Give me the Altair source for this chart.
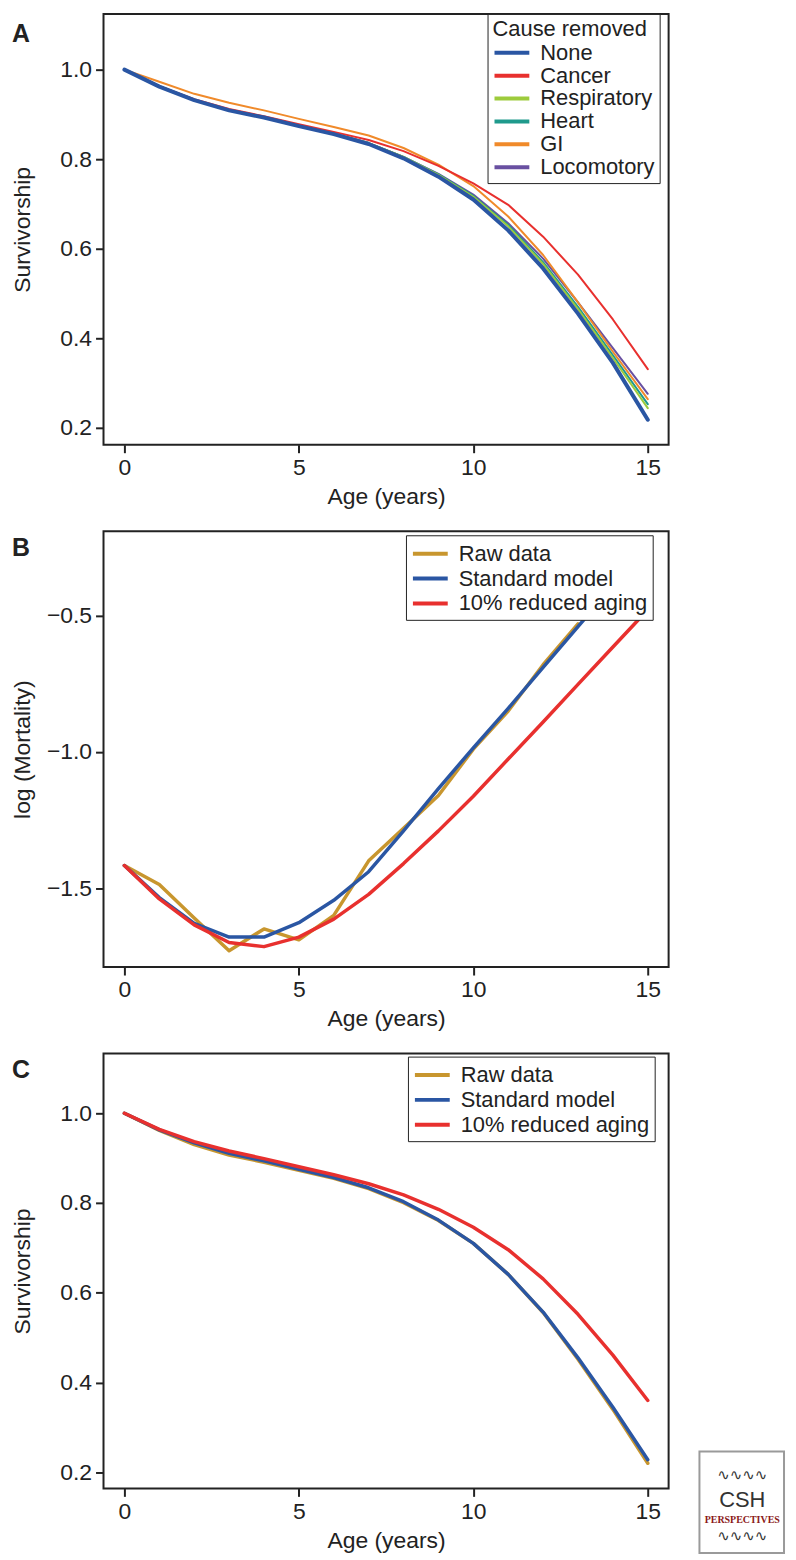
import altair as alt
import pandas as pd

FONT = "Liberation Sans"
INK = "#222222"

ages = list(range(16))

# ---------- Panel A: survivorship with cause removed ----------
causes = ["None", "Cancer", "Respiratory", "Heart", "GI", "Locomotory"]
cause_colors = ["#2a56a3", "#e8302e", "#9dcb3c", "#1f9a8c", "#f08a2a", "#6950a1"]
surv_none = [1.0, 0.962, 0.932, 0.909, 0.893, 0.874, 0.856, 0.834, 0.802, 0.761, 0.710, 0.641, 0.556, 0.455, 0.345, 0.218]
surv_cancer = [1.0, 0.963, 0.934, 0.912, 0.896, 0.878, 0.861, 0.843, 0.818, 0.785, 0.746, 0.698, 0.627, 0.542, 0.442, 0.331]
surv_resp = [1.0, 0.963, 0.933, 0.910, 0.894, 0.875, 0.857, 0.836, 0.805, 0.765, 0.716, 0.650, 0.566, 0.465, 0.356, 0.244]
surv_heart = [1.0, 0.963, 0.933, 0.910, 0.894, 0.875, 0.857, 0.836, 0.805, 0.766, 0.718, 0.653, 0.570, 0.470, 0.362, 0.253]
surv_gi = [1.0, 0.973, 0.946, 0.926, 0.909, 0.890, 0.872, 0.853, 0.825, 0.788, 0.740, 0.672, 0.586, 0.480, 0.370, 0.264]
surv_loco = [1.0, 0.962, 0.932, 0.910, 0.893, 0.875, 0.857, 0.836, 0.805, 0.767, 0.721, 0.657, 0.578, 0.480, 0.378, 0.276]

# ---------- Panels B & C: models ----------
models = ["Raw data", "Standard model", "10% reduced aging"]
model_colors = ["#c8962e", "#2a56a3", "#e8302e"]

ages_raw_b = list(range(14))
logmort_raw = [-1.417, -1.487, -1.61, -1.73, -1.65, -1.69, -1.60, -1.40, -1.28, -1.16, -0.99, -0.85, -0.68, -0.53]
logmort_std = [-1.417, -1.535, -1.63, -1.68, -1.68, -1.627, -1.545, -1.44, -1.29, -1.135, -0.985, -0.84, -0.69, -0.54, -0.39, -0.24]
logmort_red = [-1.417, -1.54, -1.635, -1.70, -1.715, -1.68, -1.614, -1.523, -1.41, -1.29, -1.163, -1.026, -0.89, -0.752, -0.615, -0.478]

surv_raw_c = [1.0, 0.962, 0.930, 0.907, 0.891, 0.873, 0.855, 0.832, 0.801, 0.761, 0.710, 0.641, 0.556, 0.452, 0.340, 0.220]
surv_std_c = [1.0, 0.963, 0.934, 0.911, 0.894, 0.875, 0.857, 0.834, 0.803, 0.762, 0.710, 0.641, 0.557, 0.455, 0.345, 0.228]
surv_red_c = [1.0, 0.964, 0.937, 0.916, 0.899, 0.881, 0.863, 0.843, 0.818, 0.786, 0.746, 0.696, 0.631, 0.552, 0.461, 0.360]

x_ticks = [0, 5, 10, 15]
surv_ticks = [0.2, 0.4, 0.6, 0.8, 1.0]
mort_ticks = [-1.5, -1.0, -0.5]


def long_df(names, xs_list, series):
    rows = []
    for n, xs, s in zip(names, xs_list, series):
        for a, v in zip(xs, s):
            rows.append({"Age": a, "Value": v, "Series": n})
    return pd.DataFrame(rows)


df_a = long_df(causes, [ages] * 6, [surv_none, surv_cancer, surv_resp, surv_heart, surv_gi, surv_loco])
df_b = long_df(models, [ages_raw_b, ages, ages], [logmort_raw, logmort_std, logmort_red])
df_c = long_df(models, [ages] * 3, [surv_raw_c, surv_std_c, surv_red_c])

W = 568
XDOM = [-0.599, 15.597]


def make_panel(df, names, colors, order, widths, ydom, yticks, ytitle, height, legend, letter, letter_y):
    x = alt.X("Age:Q", scale=alt.Scale(domain=XDOM, nice=False, zero=False),
              axis=alt.Axis(values=x_ticks, title="Age (years)", format="d"))
    y = alt.Y("Value:Q", scale=alt.Scale(domain=ydom, nice=False, zero=False),
              axis=alt.Axis(values=yticks, title=ytitle, format=".1f", titleX=-81,
                            titleBaseline="middle"))
    color = alt.Color("Series:N", scale=alt.Scale(domain=names, range=colors), legend=legend)
    layers = []
    for n in order:
        layers.append(
            alt.Chart(df).transform_filter(alt.datum.Series == n)
            .mark_line(strokeWidth=widths[n], strokeJoin="round", strokeCap="round")
            .encode(x=x, y=y, color=color)
        )
    lab = alt.Chart(pd.DataFrame({"t": [letter]})).mark_text(
        font=FONT, fontSize=25, fontWeight="bold", color=INK, align="center", baseline="middle"
    ).encode(text="t:N", x=alt.value(-83), y=alt.value(letter_y))
    layers.append(lab)
    return alt.layer(*layers).properties(width=W, height=height)


def legend_for(title, lx, ly, row_pad, sym=23):
    span = 35.0 / (sym / 2.0)
    path = "M-1,0H{:.3f}".format(span - 1)
    kw = dict(orient="none", legendX=lx, legendY=ly, symbolType=path, symbolSize=sym * sym,
              symbolStrokeWidth=4, labelFontSize=22, labelFont=FONT, labelColor=INK,
              labelLimit=400, fillColor="white", strokeColor=INK, padding=5,
              rowPadding=row_pad, labelOffset=44 - sym, symbolOpacity=1)
    if title:
        kw.update(title=title, titleFont=FONT, titleFontSize=22, titleFontWeight="normal",
                  titleColor=INK, titlePadding=1)
    else:
        kw.update(title=None)
    return alt.Legend(**kw)


panel_a = make_panel(
    df_a, causes, cause_colors,
    ["Locomotory", "GI", "Heart", "Respiratory", "Cancer", "None"],
    {"None": 4, "Cancer": 2, "Respiratory": 2, "Heart": 2, "GI": 2, "Locomotory": 2},
    [0.1622, 1.1244], surv_ticks, "Survivorship", 433,
    legend_for("Cause removed", 386, 0, 1, sym=18), "A", 20,
)

panel_b = make_panel(
    df_b, models, model_colors,
    ["Raw data", "Standard model", "10% reduced aging"],
    {"Raw data": 3.5, "Standard model": 3.5, "10% reduced aging": 3.5},
    [-1.79, -0.19], mort_ticks, "log (Mortality)", 438,
    legend_for(None, 304, 4, 0), "B", 17,
)

panel_c_lines = make_panel(
    df_c, models, model_colors,
    ["Raw data", "Standard model", "10% reduced aging"],
    {"Raw data": 3.5, "Standard model": 3.5, "10% reduced aging": 3.5},
    [0.164, 1.133], surv_ticks, "Survivorship", 437,
    legend_for(None, 306, 3, 0), "C", 17,
)

# CSH Perspectives badge (decoration, bottom right)
logo_box = alt.Chart(pd.DataFrame({"k": [1]})).mark_rect(
    fill="white", stroke="#9a9a9a", strokeWidth=2
).encode(x=alt.value(599), x2=alt.value(684), y=alt.value(400), y2=alt.value(502))
logo_csh = alt.Chart(pd.DataFrame({"t": ["CSH"]})).mark_text(
    font=FONT, fontSize=22, color="#333333", align="center", baseline="middle"
).encode(text="t:N", x=alt.value(642), y=alt.value(449))
logo_persp = alt.Chart(pd.DataFrame({"t": ["PERSPECTIVES"]})).mark_text(
    font="Liberation Serif", fontSize=10, fontWeight="bold", color="#8b1a1a", align="center", baseline="middle"
).encode(text="t:N", x=alt.value(642), y=alt.value(469))
logo_helix_top = alt.Chart(pd.DataFrame({"t": ["∿∿∿∿"]})).mark_text(
    font="DejaVu Sans", fontSize=15, color="#333333", align="center", baseline="middle"
).encode(text="t:N", x=alt.value(642), y=alt.value(424))
logo_helix_bot = alt.Chart(pd.DataFrame({"t": ["∿∿∿∿"]})).mark_text(
    font="DejaVu Sans", fontSize=15, color="#333333", align="center", baseline="middle"
).encode(text="t:N", x=alt.value(642), y=alt.value(485))

panel_c = alt.layer(panel_c_lines, logo_box, logo_helix_top, logo_csh, logo_persp, logo_helix_bot)

chart = alt.vconcat(panel_a, panel_b, panel_c, spacing=87, bounds="flush").resolve_scale(
    color="independent"
).properties(
    padding={"left": 2, "top": 0, "right": 2, "bottom": 2}
).configure_view(
    stroke=INK, strokeWidth=2
).configure_axis(
    labelFont=FONT, titleFont=FONT, labelFontSize=23, titleFontSize=23,
    titleFontWeight="normal", labelColor=INK, titleColor=INK,
    tickColor=INK, tickWidth=2, tickSize=8, domain=False, grid=False,
    labelPadding=4, titlePadding=6
)

chart.save("out.html", embed_options={"renderer": "svg", "actions": False})
